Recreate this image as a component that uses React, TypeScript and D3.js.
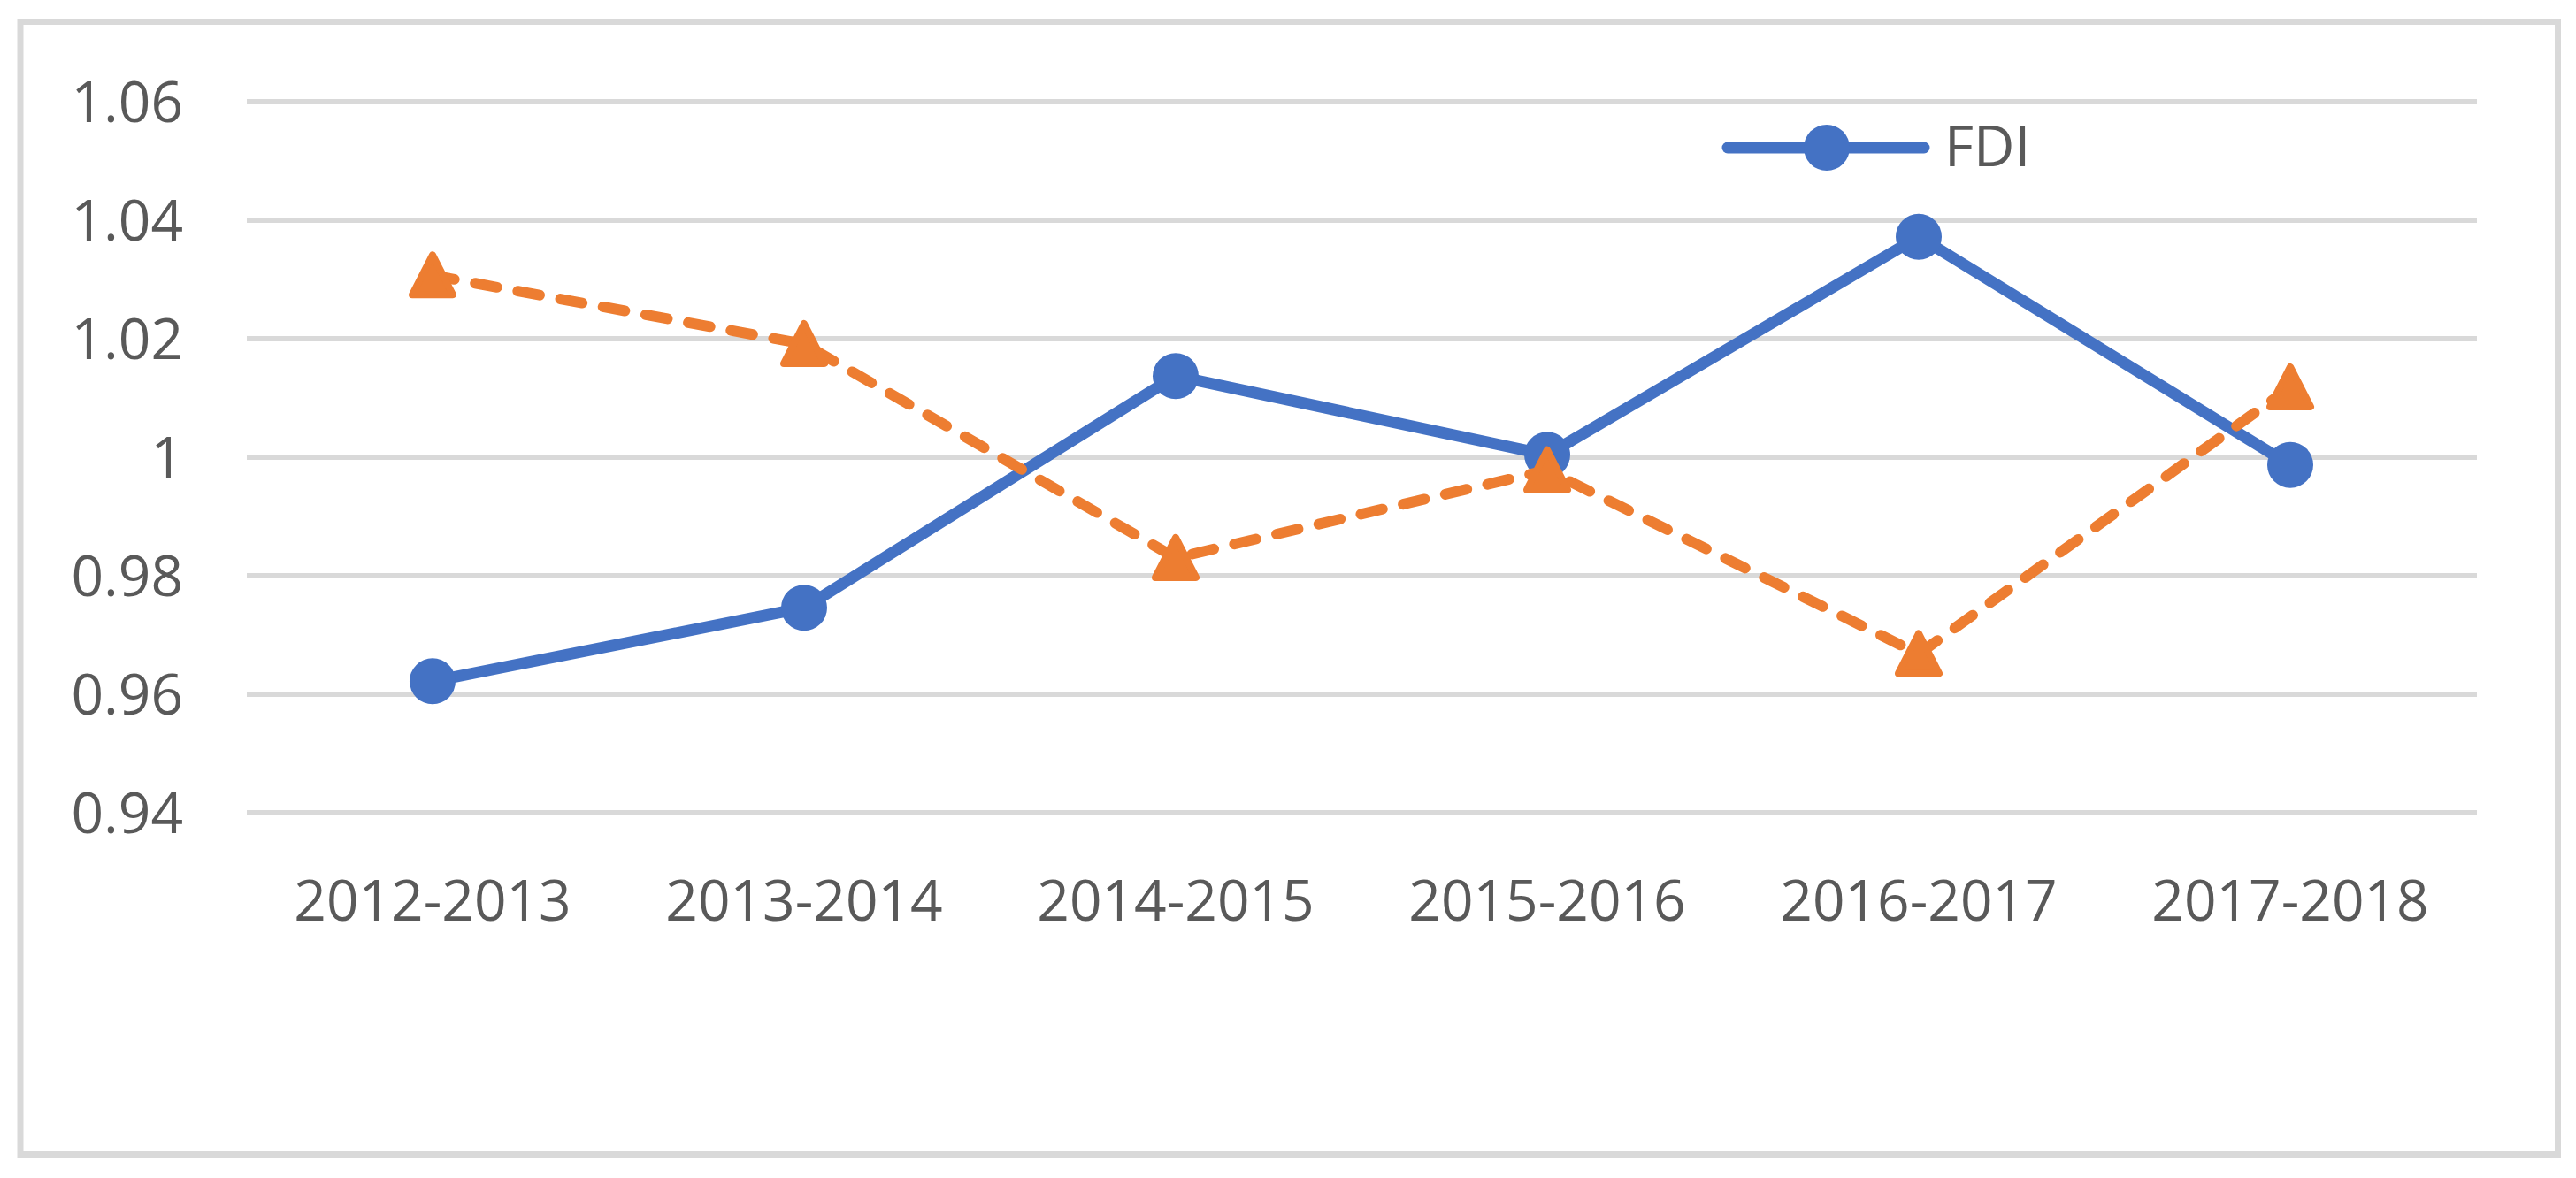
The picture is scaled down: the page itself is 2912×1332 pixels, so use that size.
import React from "react";
import * as d3 from "d3";

const categories = ["2012-2013", "2013-2014", "2014-2015", "2015-2016", "2016-2017", "2017-2018"];
const fdiValues = [0.9622, 0.9746, 1.0137, 1.0004, 1.0372, 0.9987];
const otherValues = [1.0307, 1.0191, 0.983, 0.9978, 0.9668, 1.0118];
const yTicks = [0.94, 0.96, 0.98, 1.0, 1.02, 1.04, 1.06];
const tickLabels = ["0.94", "0.96", "0.98", "1", "1.02", "1.04", "1.06"];
const legendLabel = "FDI";

const W = 2912;
const H = 1332;
const BLUE = "#4472C4";
const ORANGE = "#ED7D31";
const GRID = "#D9D9D9";
const TEXT = "#595959";
const FONT = "'Open Sans', 'Liberation Sans', sans-serif";

export default function App() {
  const x = d3.scaleBand<string>().domain(categories).range([279, 2799]);
  const y = d3.scaleLinear().domain([0.94, 1.06]).range([919, 115]);
  const cx = (c: string) => (x(c) as number) + x.bandwidth() / 2;

  const line = d3
    .line<number>()
    .x((_, i) => cx(categories[i]))
    .y((v) => y(v));

  const tri = (px: number, py: number) =>
    `M${px},${py - 23} L${px + 23},${py + 22} L${px - 23},${py + 22} Z`;

  return (
    <svg
      width={W}
      height={H}
      viewBox={`0 0 ${W} ${H}`}
      style={{ position: "absolute", left: 0, top: 0, background: "#fff" }}
    >
      <rect x={0} y={0} width={W} height={H} fill="#fff" />
      <rect x={23} y={24.5} width={2868.5} height={1281} fill="#fff" stroke={GRID} strokeWidth={7} />

      {yTicks.map((t, i) => (
        <g key={t}>
          <line x1={279} x2={2800} y1={y(t)} y2={y(t)} stroke={GRID} strokeWidth={6} />
          <text
            x={207}
            y={y(t) + 23}
            textAnchor="end"
            fontFamily={FONT}
            fontSize={64}
            fill={TEXT}
          >
            {tickLabels[i]}
          </text>
        </g>
      ))}

      {categories.map((c) => (
        <text
          key={c}
          x={cx(c)}
          y={1041}
          textAnchor="middle"
          fontFamily={FONT}
          fontSize={64}
          fill={TEXT}
        >
          {c}
        </text>
      ))}

      <path
        d={line(fdiValues) || ""}
        fill="none"
        stroke={BLUE}
        strokeWidth={13}
        strokeLinejoin="round"
        strokeLinecap="round"
      />
      {fdiValues.map((v, i) => (
        <circle key={i} cx={cx(categories[i])} cy={y(v)} r={26} fill={BLUE} />
      ))}

      <path
        d={line(otherValues) || ""}
        fill="none"
        stroke={ORANGE}
        strokeWidth={12}
        strokeDasharray="25 24"
        strokeLinecap="round"
        strokeLinejoin="round"
      />
      {otherValues.map((v, i) => (
        <path
          key={i}
          d={tri(cx(categories[i]), y(v))}
          fill={ORANGE}
          stroke={ORANGE}
          strokeWidth={8}
          strokeLinejoin="round"
        />
      ))}

      <g>
        <line x1={1953} x2={2175} y1={167} y2={167} stroke={BLUE} strokeWidth={13} strokeLinecap="round" />
        <circle cx={2065} cy={167} r={26} fill={BLUE} />
        <text x={2198} y={188} fontFamily={FONT} fontSize={64} fill={TEXT}>
          {legendLabel}
        </text>
      </g>
    </svg>
  );
}
